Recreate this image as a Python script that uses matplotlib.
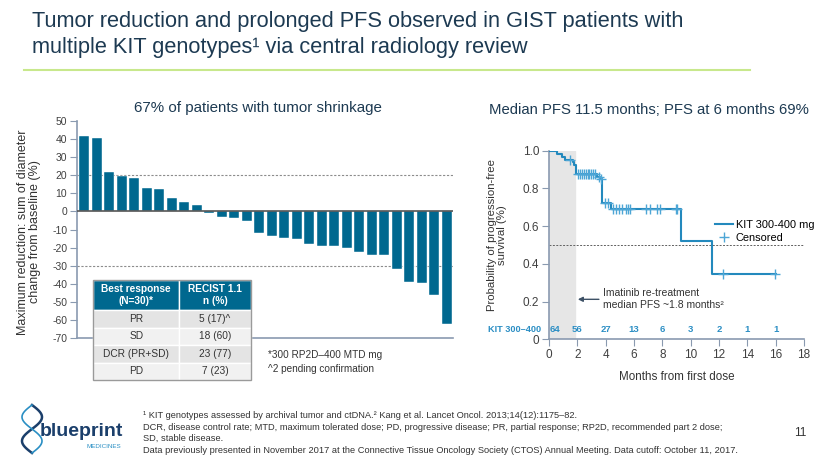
import numpy as np
import matplotlib.pyplot as plt
from matplotlib.lines import Line2D
from matplotlib.patches import Rectangle

plt.rcParams['font.family'] = ['Liberation Sans', 'DejaVu Sans']
plt.rcParams['axes.unicode_minus'] = False

# waterfall: best % change in sum of diameters, one bar per patient
changes = [41.7, 40.4, 21.7, 19.4, 18.3, 13.1, 12.2, 7.4, 5.2, 3.7,
           -0.9, -3.3, -3.5, -5.5, -11.9, -13.6, -14.5, -15.5, -17.8, -18.9,
           -19.2, -20.0, -22.2, -24.0, -24.1, -31.9, -39.2, -39.8, -46.2, -62.5]

table_cols = ['Best response\n(N=30)*', 'RECIST 1.1\nn (%)']
table_rows = [['PR', '5 (17)^'],
              ['SD', '18 (60)'],
              ['DCR (PR+SD)', '23 (77)'],
              ['PD', '7 (23)']]

# Kaplan-Meier PFS (step curve)
km_t = [0, 0.59, 0.89, 1.13, 1.67, 1.79, 1.91, 3.42, 3.58, 3.72, 4.38, 9.3, 11.52, 16.05]
km_s = [1.0, 0.984, 0.969, 0.953, 0.938, 0.922, 0.875, 0.862, 0.848, 0.724, 0.69, 0.521, 0.348, 0.348]
censor_t = [1.45, 2.07, 2.2, 2.33, 2.46, 2.59, 2.72, 2.85, 2.98, 3.11, 3.25, 3.5, 3.65,
            3.95, 4.19, 4.49, 4.75, 4.96, 5.13, 5.41, 5.55, 5.72, 6.85, 7.13, 7.6, 7.83,
            8.94, 9.03, 12.3, 15.97]
risk_t = [0.45, 2, 4, 6, 8, 10, 12, 14, 16]
at_risk = [64, 56, 27, 13, 6, 3, 2, 1, 1]

navy = '#1d3a52'
teal = '#00688f'
spine = '#8a9ab0'
kmblue = '#2389bd'

W, H = 830, 467
fig = plt.figure(figsize=(8.3, 4.67), dpi=100)


def fx(px):
    return px / W


def fy(py):
    return 1 - py / H


# header
fig.text(fx(32), fy(22), 'Tumor reduction and prolonged PFS observed in GIST patients with',
         fontsize=15.7, color=navy, va='center')
fig.text(fx(32), fy(48), 'multiple KIT genotypes\u00b9 via central radiology review',
         fontsize=15.7, color=navy, va='center')
fig.add_artist(Line2D([fx(24), fx(750)], [fy(70), fy(70)], color='#c8e88c', lw=1.5))

# ---- waterfall ----
ax1 = fig.add_axes([fx(77), fy(338), fx(453 - 77), (338 - 121) / H])
x = np.arange(len(changes))
ax1.bar(x, changes, width=0.8, color=teal, edgecolor='white', linewidth=0.3, zorder=3)
ax1.axhline(0, color='#555555', lw=1.2, zorder=4)
ax1.axhline(20, color='#8c8c8c', lw=0.8, ls=(0, (2, 1.5)), zorder=2)
ax1.axhline(-30, color='#8c8c8c', lw=0.8, ls=(0, (2, 1.5)), zorder=2)
ax1.set_xlim(-0.6, 29.5)
ax1.set_ylim(-70, 50)
ax1.set_yticks(range(-70, 51, 10))
ax1.set_xticks([])
for s in ['top', 'right']:
    ax1.spines[s].set_visible(False)
for s in ['left', 'bottom']:
    ax1.spines[s].set_color(spine)
    ax1.spines[s].set_linewidth(1.2)
ax1.tick_params(axis='y', direction='out', length=5, color=spine, labelsize=7.5,
                labelcolor='#404040', pad=2)
fig.text(fx(258), fy(108), '67% of patients with tumor shrinkage', ha='center',
         va='center', fontsize=10.9, color=navy)
fig.text(fx(29), fy(232), 'Maximum reduction: sum of diameter\nchange from baseline (%)',
         rotation=90, ha='center', va='center', fontsize=9, color='#333333',
         linespacing=1.1)

tbl = ax1.table(cellText=table_rows, colLabels=table_cols, cellLoc='center',
                bbox=[(93.3 - 77) / 376, (338 - 380) / 217, 157.4 / 376, 100 / 217])
tbl.auto_set_font_size(False)
tbl.set_fontsize(7.3)
tbl.set_zorder(6)
for (r, c), cell in tbl.get_celld().items():
    cell.set_width(86 if c == 0 else 71.4)
    cell.set_edgecolor('white')
    cell.set_linewidth(1)
    if r == 0:
        cell.set_height(30)
        cell.set_facecolor(teal)
        cell.get_text().set_color('white')
        cell.get_text().set_fontweight('bold')
        cell.get_text().set_fontsize(7.3)
        cell.get_text().set_linespacing(1.3)
    else:
        cell.set_height(17.5)
        cell.set_facecolor('#e4e4e4' if r % 2 == 1 else '#f1f1f1')
        cell.get_text().set_color('#333333')
fig.add_artist(Rectangle((fx(93.3), fy(380)), fx(157.4), 100 / H, fill=False,
                         edgecolor='#9a9a9a', lw=1, zorder=7))
fig.text(fx(268), fy(355), '*300 RP2D\u2013400 MTD mg', fontsize=7.2, color='#333333', va='center')
fig.text(fx(268), fy(369), '^2 pending confirmation', fontsize=7.2, color='#333333', va='center')

# ---- Kaplan-Meier ----
ax2 = fig.add_axes([fx(549), fy(339.3), fx(804 - 549), (339.3 - 150.7) / H])
ax2.axvspan(0, 1.8, color='#e6e6e6', zorder=0)
ax2.axhline(0.5, color='#606060', lw=0.7, ls=(0, (2, 1.5)), zorder=1)
ax2.step(km_t, km_s, where='post', color=kmblue, lw=1.5, zorder=3)
idx = np.searchsorted(km_t, censor_t, side='right') - 1
ax2.plot(censor_t, np.array(km_s)[idx], ls='none', marker='+', ms=7, mew=1,
         color='#4da6d6', zorder=4)
ax2.set_xlim(0, 18)
ax2.set_ylim(0, 1.0)
ax2.set_xticks(range(0, 19, 2))
ax2.set_yticks([0, 0.2, 0.4, 0.6, 0.8, 1.0])
ax2.set_yticklabels(['0', '0.2', '0.4', '0.6', '0.8', '1.0'])
for s in ['top', 'right']:
    ax2.spines[s].set_visible(False)
for s in ['left', 'bottom']:
    ax2.spines[s].set_color(spine)
    ax2.spines[s].set_linewidth(1.2)
ax2.tick_params(direction='out', length=5, color=spine, labelsize=8.5,
                labelcolor='#404040', pad=2)
ax2.set_xlabel('Months from first dose', fontsize=8.4, color='#333333', labelpad=7)
fig.text(fx(497), fy(235), 'Probability of progression-free\nsurvival (%)', rotation=90,
         ha='center', va='center', fontsize=8.2, color='#333333', linespacing=1.1)
fig.text(fx(649), fy(110), 'Median PFS 11.5 months; PFS at 6 months 69%',
         ha='center', va='center', fontsize=10.7, color=navy)

for t, n in zip(risk_t, at_risk):
    ax2.text(t, 0.053, str(n), ha='center', va='center', fontsize=6.8,
             fontweight='bold', color='#2b8ec4')
ax2.text(-0.55, 0.053, 'KIT 300\u2013400', ha='right', va='center', fontsize=6.6,
         fontweight='bold', color='#2b8ec4', clip_on=False)

ax2.annotate('', xy=(1.84, 0.212), xytext=(3.72, 0.212),
             arrowprops=dict(arrowstyle='-|>', color='#3d5166', lw=1, mutation_scale=7))
ax2.text(3.8, 0.212, 'Imatinib re-treatment\nmedian PFS ~1.8 months\u00b2', ha='left',
         va='center', fontsize=7.5, color='#333333', linespacing=1.25)

handles = [Line2D([], [], color=kmblue, lw=1.5),
           Line2D([], [], ls='none', marker='+', ms=7, mew=1, color='#4da6d6')]
ax2.legend(handles, ['KIT 300-400 mg', 'Censored'], loc='upper left',
           bbox_to_anchor=(0.63, 0.66), frameon=False, fontsize=7.9,
           handlelength=1.6, handletextpad=0.3, labelspacing=0.2, borderpad=0)

# ---- footer ----
foot = ['\u00b9 KIT genotypes assessed by archival tumor and ctDNA.\u00b2 Kang et al. Lancet Oncol. 2013;14(12):1175\u201382.',
        'DCR, disease control rate; MTD, maximum tolerated dose; PD, progressive disease; PR, partial response; RP2D, recommended part 2 dose;',
        'SD, stable disease.',
        'Data previously presented in November 2017 at the Connective Tissue Oncology Society (CTOS) Annual Meeting. Data cutoff: October 11, 2017.']
for i, line in enumerate(foot):
    fig.text(fx(143), fy(416 + i * 11.4), line, fontsize=6.7, color='#333333', va='center')
fig.text(fx(800), fy(433), '11', fontsize=8.5, color='#333333', ha='center', va='center')

# logo
tt = np.linspace(0, 1, 60)
fig.add_artist(Line2D(fx(32 + 10 * np.sin(tt * 2 * np.pi)), fy(405 + 48 * tt),
                      color='#1b3f6b', lw=1.8))
fig.add_artist(Line2D(fx(32 - 10 * np.sin(tt * 2 * np.pi)), fy(405 + 48 * tt),
                      color='#2a8fc4', lw=1.2))
fig.text(fx(40), fy(431), 'blueprint', fontsize=14, fontweight='bold', color='#1b3f6b',
         va='center')
fig.text(fx(86), fy(446), 'MEDICINES', fontsize=4.5, color='#2a8fc4', va='center')

fig.savefig('out.png', dpi=100)
